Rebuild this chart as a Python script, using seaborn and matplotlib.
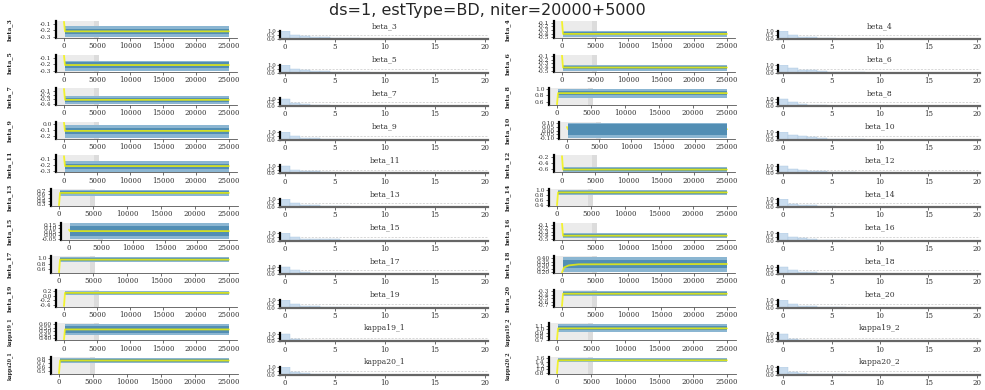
import matplotlib
matplotlib.use("Agg")
import matplotlib.pyplot as plt
import seaborn as sns

# parameter names in reading order (left pair, right pair per row)
names = ["beta_3", "beta_4", "beta_5", "beta_6", "beta_7", "beta_8",
         "beta_9", "beta_10", "beta_11", "beta_12", "beta_13", "beta_14",
         "beta_15", "beta_16", "beta_17", "beta_18", "beta_19", "beta_20",
         "kappa19_1", "kappa19_2", "kappa20_1", "kappa20_2"]

# y ticks of each trace panel
yticks = [[-0.3, -0.2, -0.1], [-0.5, -0.4, -0.3, -0.2, -0.1],
          [-0.3, -0.2, -0.1], [-0.5, -0.4, -0.3, -0.2, -0.1],
          [-0.4, -0.3, -0.2, -0.1], [0.6, 0.8, 1.0],
          [-0.2, -0.1, 0.0], [-0.10, -0.05, 0.00, 0.05, 0.10],
          [-0.3, -0.2, -0.1], [-0.6, -0.4, -0.2],
          [0.3, 0.4, 0.5, 0.6, 0.7], [0.4, 0.6, 0.8, 1.0],
          [-0.05, 0.00, 0.05, 0.10, 0.15], [-0.5, -0.4, -0.3, -0.2, -0.1],
          [0.6, 0.8, 1.0], [0.20, 0.25, 0.30, 0.35, 0.40],
          [-0.4, -0.2, 0.0, 0.2], [-0.7, -0.6, -0.5, -0.4, -0.3],
          [0.40, 0.45, 0.50, 0.55, 0.60], [0.7, 0.8, 0.9, 1.0, 1.1],
          [0.5, 0.6, 0.7, 0.8], [0.8, 1.0, 1.2, 1.4, 1.6]]

# chain start value, posterior mean, dense band and spike extremes
start_val = [-0.06, -0.08, -0.06, -0.08, -0.05, 0.52, 0.02, 0.05, -0.06, -0.18, 0.27,
             0.38, 0.08, -0.06, 0.50, 0.20, -0.45, -0.72, 0.38, 0.70, 0.45, 0.80]
post_mean = [-0.215, -0.41, -0.21, -0.41, -0.31, 0.87, -0.12, 0.02, -0.22, -0.63, 0.645,
             0.91, 0.06, -0.41, 0.93, 0.32, 0.12, -0.37, 0.525, 1.02, 0.77, 1.47]
inner_lo = [-0.26, -0.45, -0.25, -0.45, -0.36, 0.80, -0.17, -0.06, -0.26, -0.67, 0.60,
            0.85, -0.01, -0.45, 0.88, 0.26, 0.07, -0.41, 0.48, 0.97, 0.73, 1.42]
inner_hi = [-0.17, -0.37, -0.17, -0.37, -0.27, 0.94, -0.07, 0.09, -0.18, -0.59, 0.69,
            0.97, 0.13, -0.37, 0.97, 0.38, 0.17, -0.33, 0.57, 1.08, 0.80, 1.52]
outer_lo = [-0.31, -0.50, -0.30, -0.50, -0.42, 0.72, -0.24, -0.10, -0.31, -0.70, 0.55,
            0.80, -0.05, -0.48, 0.85, 0.20, 0.02, -0.43, 0.45, 0.92, 0.70, 1.38]
outer_hi = [-0.13, -0.33, -0.14, -0.34, -0.22, 1.00, -0.02, 0.11, -0.14, -0.55, 0.74,
            1.02, 0.17, -0.33, 1.02, 0.42, 0.22, -0.28, 0.60, 1.14, 0.84, 1.58]

# beta_18 running mean creeps up instead of jumping
beta18_run_x = [0, 300, 1000, 2500, 25000]
beta18_run_y = [0.20, 0.27, 0.30, 0.315, 0.32]
mean_hidden = ["beta_10"]

# autocorrelations, lags 0..20 (unlisted lags ~0)
acf_vals = [
    [1.0, 0.55, 0.4, 0.3, 0.22, 0.15, 0.1, 0.07, 0.05, 0.03, 0.02],
    [1.0, 0.5, 0.3, 0.2, 0.12, 0.08, 0.05, 0.03, 0.02],
    [1.0, 0.5, 0.35, 0.25, 0.17, 0.1, 0.06, 0.04, 0.02],
    [1.0, 0.55, 0.4, 0.3, 0.2, 0.12, 0.08, 0.05, 0.03],
    [1.0, 0.45, 0.3, 0.2, 0.13, 0.08, 0.05, 0.03],
    [1.0, 0.5, 0.3, 0.2, 0.12, 0.08, 0.05],
    [1.0, 0.45, 0.3, 0.2, 0.12, 0.08, 0.05, 0.03],
    [1.0, 0.6, 0.45, 0.35, 0.25, 0.15, 0.1, 0.06, 0.04, 0.02],
    [1.0, 0.5, 0.35, 0.25, 0.15, 0.1, 0.06, 0.04],
    [1.0, 0.55, 0.4, 0.3, 0.25, 0.2, 0.15, 0.12, 0.1, 0.08, 0.06, 0.05, 0.04, 0.03],
    [1.0, 0.5, 0.3, 0.2, 0.15, 0.1, 0.07],
    [1.0, 0.45, 0.3, 0.2, 0.12, 0.08],
    [1.0, 0.45, 0.25, 0.2, 0.18, 0.15, 0.13, 0.11, 0.1, 0.08, 0.06, 0.04],
    [1.0, 0.5, 0.3, 0.2, 0.12, 0.08, 0.05],
    [1.0, 0.5, 0.3, 0.2, 0.15, 0.12, 0.1, 0.08, 0.06, 0.05, 0.04, 0.03],
    [1.0, 0.55, 0.35, 0.25, 0.18, 0.12, 0.08, 0.05],
    [1.0, 0.5, 0.3, 0.2, 0.15, 0.1, 0.07, 0.05],
    [1.0, 0.5, 0.3, 0.2, 0.13, 0.08, 0.05],
    [1.0, 0.3, 0.12, 0.06, 0.03],
    [1.0, 0.35, 0.15, 0.08, 0.04],
    [1.0, 0.35, 0.2, 0.15, 0.12, 0.1, 0.08, 0.06, 0.05, 0.04],
    [1.0, 0.4, 0.25, 0.18, 0.13, 0.1, 0.08, 0.06, 0.04],
]
lags = list(range(21))
niter = 25000
burnin = 5000

sns.set_theme(style="white")
plt.rcParams['font.family'] = ['DejaVu Serif']

W, H = 985, 390
fig = plt.figure(figsize=(W / 100, H / 100), dpi=100)


def px_axes(left, top, width, height):
    return fig.add_axes([left / W, 1 - (top + height) / H, width / W, height / H])


def style_axes(ax):
    for s in ["top", "right"]:
        ax.spines[s].set_visible(False)
    ax.spines["left"].set_color("black")
    ax.spines["left"].set_linewidth(1.6)
    ax.spines["bottom"].set_color("#555555")
    ax.spines["bottom"].set_linewidth(0.6)
    ax.tick_params(axis="both", length=2, width=0.5, pad=1, labelsize=5.0,
                   colors="#333333", bottom=True, left=True)
    ax.grid(False)


fig.text(487 / W, 1 - 10 / H, "ds=1, estType=BD, niter=20000+5000",
         ha="center", va="center", fontsize=11.5, family="DejaVu Sans")

for i, name in enumerate(names):
    row, col = i // 2, i % 2
    off = 498 * col
    ticks = yticks[i]
    dec = 2 if any(abs(round(t * 10) - t * 10) > 1e-6 for t in ticks) else 1
    labels = [f"{t:.{dec}f}" for t in ticks]
    nchar = max(len(s) for s in labels)

    # trace panel
    x0 = 59 + 5 * (nchar - 3) + off
    x1 = 229 + off
    span = x1 - x0
    top = 21 + 33.6 * row
    ax = px_axes(x0 - 0.05 * span, top, 1.1 * span, 17)
    style_axes(ax)
    ax.tick_params(axis="y", labelsize=4.3)
    ax.axvspan(-0.05 * niter, burnin, color="#ebebeb", lw=0, zorder=0)
    ax.axvspan(burnin - 400, burnin + 300, color="#dcdcdc", lw=0, zorder=0)
    ax.fill_between([200, niter], outer_lo[i], outer_hi[i], color="#8bb6d2", lw=0, zorder=1)
    ax.fill_between([200, niter], inner_lo[i], inner_hi[i], color="#528eb4", lw=0, zorder=2)
    if name == "beta_18":
        rx, ry = beta18_run_x, beta18_run_y
    else:
        rx, ry = [0, 150, niter], [start_val[i], post_mean[i], post_mean[i]]
    z = 1.5 if name in mean_hidden else 3
    sns.lineplot(x=rx, y=ry, ax=ax, color="#f5f500", lw=1.3, alpha=0.8,
                 estimator=None, sort=False, zorder=z)
    lo = min(outer_lo[i], start_val[i], ticks[0])
    hi = max(outer_hi[i], start_val[i], ticks[-1])
    ax.set_xlim(-0.05 * niter, 1.05 * niter)
    ax.set_ylim(lo - 0.05 * (hi - lo), hi + 0.05 * (hi - lo))
    ax.set_xticks([0, 5000, 10000, 15000, 20000, 25000])
    ax.set_xticklabels(["0", "5000", "10000", "15000", "20000", "25000"])
    ax.set_yticks(ticks)
    ax.set_yticklabels(labels)
    ax.set_xlabel("")
    ax.set_ylabel("")
    ylab_size = 4.5 if len(name) <= 7 else 3.4
    fig.text((10 + off) / W, 1 - (top + 8.5) / H, name, rotation=90, ha="center",
             va="center", fontsize=ylab_size, fontweight="bold")

    # autocorrelation panel (right column squeezed a little so "20" stays inside)
    a0 = 285 + off
    lag_px = 10.0 if col == 0 else 9.7
    acf = acf_vals[i] + [0.0] * (21 - len(acf_vals[i]))
    abot = top + 18
    axa = px_axes(a0 - 0.5 * lag_px, abot - 8, 20.8 * lag_px, 8)
    style_axes(axa)
    sns.barplot(x=lags, y=acf, ax=axa, native_scale=True, width=1, color="#c9dcee",
                edgecolor="#a9c6e0", linewidth=0.3, errorbar=None, saturation=1)
    axa.axhline(0.5, color="#c8c8c8", lw=0.5, ls=(0, (3, 2)), zorder=0)
    axa.spines["bottom"].set_linewidth(1.6)
    axa.spines["bottom"].set_color("#666666")
    axa.set_xlim(-0.5, 20.3)
    axa.set_ylim(0, 1.05)
    axa.set_xticks([0, 5, 10, 15, 20])
    axa.set_xticklabels(["0", "5", "10", "15", "20"])
    axa.set_yticks([0.0, 0.5, 1.0])
    axa.set_yticklabels(["0.0", "0.5", "1.0"], fontsize=4.0)
    axa.set_xlabel("")
    axa.set_ylabel("")
    fig.text((a0 + 10 * lag_px) / W, 1 - (abot - 9) / H, name, ha="center", va="bottom",
             fontsize=5.5, color="#333333")

fig.savefig("out.png", dpi=100)
